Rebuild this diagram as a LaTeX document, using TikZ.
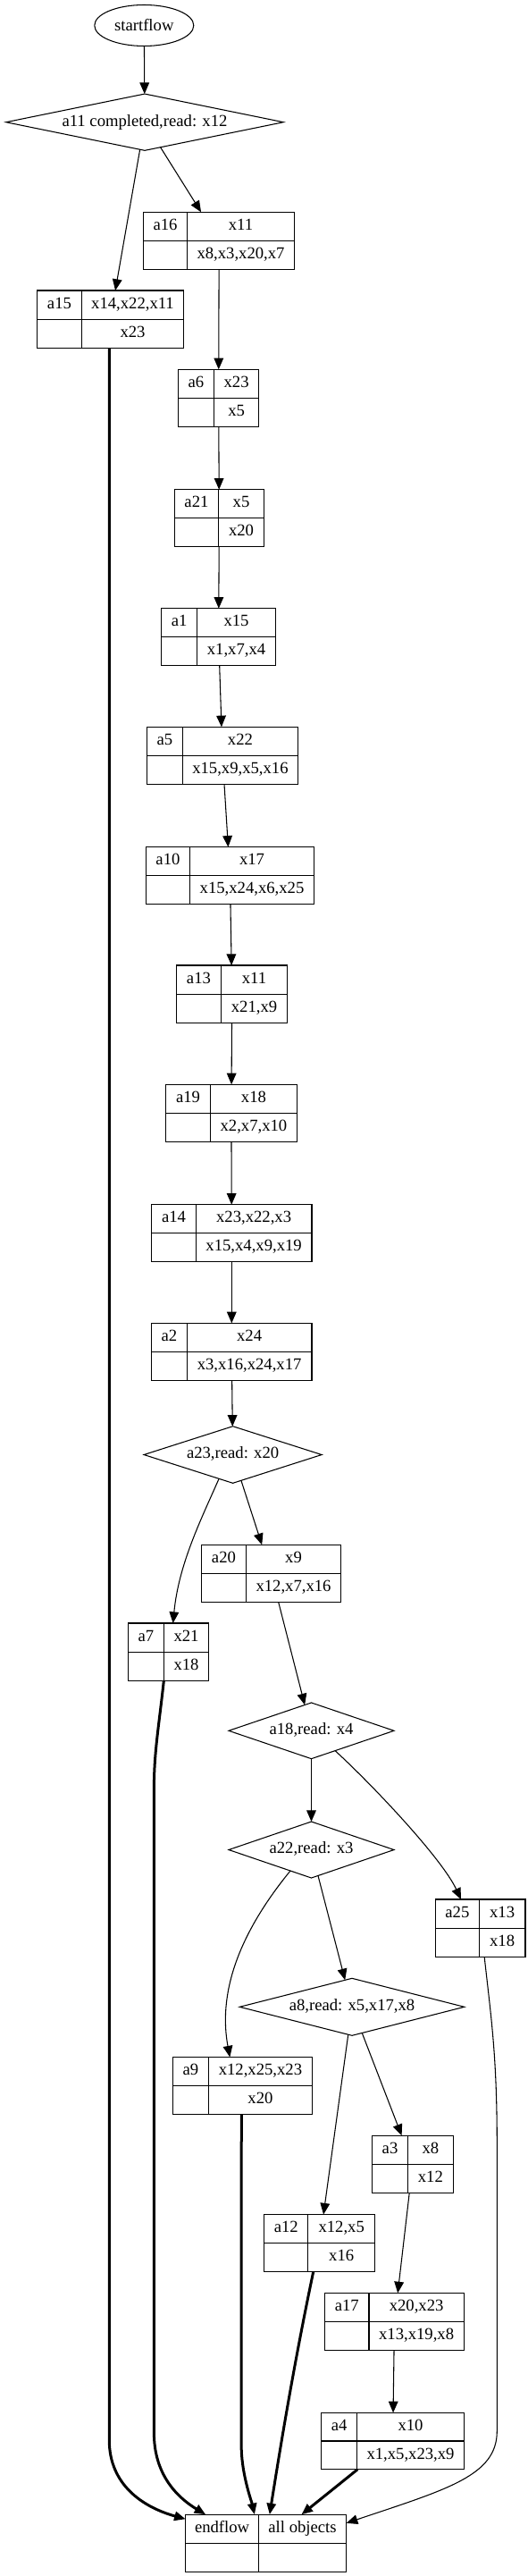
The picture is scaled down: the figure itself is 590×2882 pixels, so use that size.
\documentclass[tikz,border=0pt]{standalone}
\usepackage{fontspec}
\setmainfont{Liberation Serif}
\usetikzlibrary{shapes.geometric,arrows.meta,calc}
\tikzset{
  recbox/.style={draw, line width=0.9pt, rectangle, inner sep=0pt, outer sep=0pt},
  recline/.style={line width=0.9pt},
  lbl/.style={inner sep=0pt, text height=9.5pt, text depth=3pt, font=\fontsize{14}{16}\selectfont},
  dia/.style={draw, diamond, line width=0.8pt, inner sep=0pt, outer sep=0pt, text height=9.5pt, text depth=3pt, font=\fontsize{14}{16}\selectfont},
  conn/.style={line width=0.8pt, -{Triangle[length=9.5pt,width=8pt]}},
  bconn/.style={line width=2.25pt, -{Triangle[length=9.5pt,width=7.5pt]}},
}
% name, x1, y1, x2, y2, xdiv, left label, top label, bottom label
\newcommand{\recnode}[9]{%
  \node[recbox, anchor=north west, minimum width={(#4-#2)*0.75pt}, minimum height={(#5-#3)*0.75pt}] (#1) at (#2,#3) {};
  \draw[recline] (#6,#3) -- (#6,#5);
  \draw[recline] (#2,{(#3+#5)/2}) -- (#4,{(#3+#5)/2});
  \node[lbl] at ({(#2+#6)/2},{0.75*#3+0.25*#5}) {#7};
  \node[lbl] at ({(#6+#4)/2},{0.75*#3+0.25*#5}) {#8};
  \node[lbl] at ({(#6+#4)/2},{0.25*#3+0.75*#5}) {#9};
}
\begin{document}
\begin{tikzpicture}[x=0.75pt,y=-0.75pt]
\fill[white] (0,0) rectangle (590,2882);
\useasboundingbox (0,0) rectangle (590,2882);

\node[draw, ellipse, line width=0.8pt, inner sep=0pt, minimum width={111*0.75pt}, minimum height={46*0.75pt}, font=\fontsize{14}{16}\selectfont] (startflow) at (161.3,28.5) {startflow};

\node[dia, minimum width={310.5*0.75pt}, minimum height={63.3*0.75pt}, shape aspect=4.9] (a11) at (162,136.7) {a11 completed,read: x12};

\recnode{a16}{160.7}{237.3}{329.7}{301.7}{209.3}{a16}{x11}{x8,x3,x20,x7}
\recnode{a15}{41.4}{325}{205.5}{389.3}{91.5}{a15}{x14,x22,x11}{x23}
\recnode{a6}{199.5}{413.3}{289.8}{477.3}{239.4}{a6}{x23}{x5}
\recnode{a21}{195.3}{547.7}{295.4}{611.3}{244.6}{a21}{x5}{x20}
\recnode{a1}{180.7}{680.7}{308.6}{744.3}{220.5}{a1}{x15}{x1,x7,x4}
\recnode{a5}{164.5}{813.3}{333.5}{877.3}{204.4}{a5}{x22}{x15,x9,x5,x16}
\recnode{a10}{163.3}{947.7}{351.5}{1011.3}{212.6}{a10}{x17}{x15,x24,x6,x25}
\recnode{a13}{197.6}{1080}{321.8}{1144.3}{247.3}{a13}{x11}{x21,x9}
\recnode{a19}{185.5}{1213.3}{332.3}{1277.3}{235.6}{a19}{x18}{x2,x7,x10}
\recnode{a14}{169.7}{1347.7}{348.9}{1411.3}{219.4}{a14}{x23,x22,x3}{x15,x4,x9,x19}
\recnode{a2}{169.7}{1480.3}{348.9}{1544.3}{209.3}{a2}{x24}{x3,x16,x24,x17}

\node[dia, minimum width={199*0.75pt}, minimum height={63.6*0.75pt}, shape aspect=3.13] (a23) at (260.6,1627.5) {a23,read: x20};

\recnode{a20}{225.4}{1728.3}{381.6}{1792.3}{275.5}{a20}{x9}{x12,x7,x16}
\recnode{a7}{143.4}{1816}{233.7}{1880.3}{183.3}{a7}{x21}{x18}

\node[dia, minimum width={185*0.75pt}, minimum height={62.7*0.75pt}, shape aspect=2.95] (a18) at (348.5,1936.3) {a18,read: x4};
\node[dia, minimum width={185*0.75pt}, minimum height={63*0.75pt}, shape aspect=2.95] (a22) at (348.5,2069.5) {a22,read: x3};

\recnode{a25}{487.4}{2125}{587.9}{2189.3}{536.3}{a25}{x13}{x18}

\node[dia, minimum width={251.4*0.75pt}, minimum height={64*0.75pt}, shape aspect=3.93] (a8) at (394,2245.3) {a8,read: x5,x17,x8};

\recnode{a9}{193.5}{2301.5}{349.6}{2365.5}{233.3}{a9}{x12,x25,x23}{x20}
\recnode{a3}{416.6}{2389.3}{507.3}{2453.3}{456.5}{a3}{x8}{x12}
\recnode{a12}{295.8}{2477.5}{419.6}{2541.2}{344.8}{a12}{x12,x5}{x16}
\recnode{a17}{363.6}{2565.4}{519.4}{2629.1}{412.9}{a17}{x20,x23}{x13,x19,x8}
\recnode{a4}{359.8}{2699.3}{519.4}{2762.7}{399.7}{a4}{x10}{x1,x5,x23,x9}
\recnode{endflow}{207.8}{2813.3}{387.7}{2877.1}{289.4}{endflow}{all objects}{}

% thin connectors
\draw[conn] (startflow) -- (a11);
\draw[conn] (a11) -- (a16);
\draw[conn] (a11) -- (a15);
\draw[conn] (a16) -- (a6);
\draw[conn] (a6) -- (a21);
\draw[conn] (a21) -- (a1);
\draw[conn] (a1) -- (a5);
\draw[conn] (a5) -- (a10);
\draw[conn] (a10) -- (a13);
\draw[conn] (a13) -- (a19);
\draw[conn] (a19) -- (a14);
\draw[conn] (a14) -- (a2);
\draw[conn] (a2) -- (a23);
\draw[conn] (a23) -- (a20);
\draw[conn] (a23.-120) .. controls (225,1700) and (200,1750) .. (a7.81);
\draw[conn] (a20) -- (a18);
\draw[conn] (a18) -- (a22);
\draw[conn] (a18.-40) .. controls (420,2000) and (495,2080) .. (a25.124);
\draw[conn] (a22) -- (a8);
\draw[conn] (a22.-135) .. controls (262,2170) and (245,2235) .. (a9.114);
\draw[conn] (a8) -- (a3);
\draw[conn] (a8) -- (a12);
\draw[conn] (a3) -- (a17);
\draw[conn] (a17) -- (a4);
\draw[conn] (a25.-82) .. controls (550,2260) and (556.3,2300) .. (556.3,2400) -- (556.3,2720) .. controls (556.3,2770) and (500,2785) .. ($(endflow.north east)+(0,9.5)$);

% thick connectors
\draw[bconn] ($(a15.south)+(-1.2,0)$) -- (122.3,2730) .. controls (122.3,2780) and (160,2805) .. ($(endflow.north west)+(0,5)$);
\draw[bconn] ($(a7.south)+(-5.2,0)$) .. controls (178,1930) and (172.4,1960) .. (172.4,2000) -- (172.4,2722) .. controls (172.4,2770) and (200,2795) .. ($(endflow.north west)+(22.5,0)$);
\draw[bconn] ($(a9.south)+(-1.3,0)$) -- (270.2,2740) .. controls (271,2770) and (282,2800) .. ($(endflow.north west)+(77.1,0)$);
\draw[bconn] ($(a12.south)+(-6.9,0)$) .. controls (330,2640) and (315,2730) .. ($(endflow.north west)+(94,0)$);
\draw[bconn] (a4) -- (endflow);
\end{tikzpicture}
\end{document}
